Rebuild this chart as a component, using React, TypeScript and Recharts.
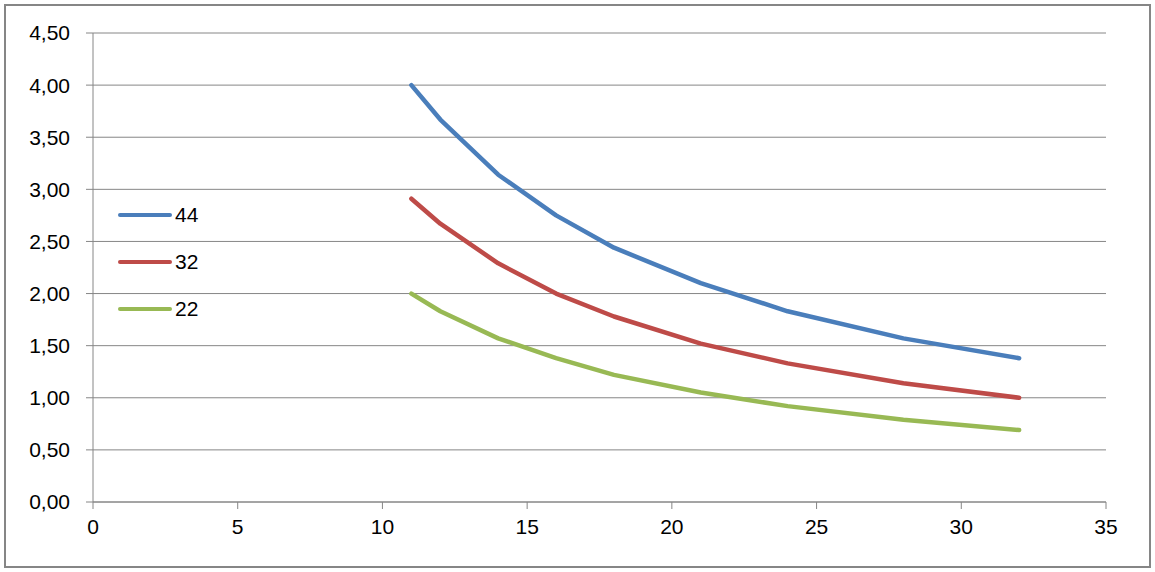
import { LineChart, Line, XAxis, YAxis, CartesianGrid } from 'recharts'

const xValues = [11, 12, 14, 16, 18, 21, 24, 28, 32]
const series44 = [4.0, 3.67, 3.14, 2.75, 2.44, 2.1, 1.83, 1.57, 1.38]
const series32 = [2.91, 2.67, 2.29, 2.0, 1.78, 1.52, 1.33, 1.14, 1.0]
const series22 = [2.0, 1.83, 1.57, 1.38, 1.22, 1.05, 0.92, 0.79, 0.69]
const xTicks = [0, 5, 10, 15, 20, 25, 30, 35]
const yTicks = [0, 0.5, 1, 1.5, 2, 2.5, 3, 3.5, 4, 4.5]

const SERIES = [
  { key: 's44', name: '44', color: '#4a7ebb' },
  { key: 's32', name: '32', color: '#be4b48' },
  { key: 's22', name: '22', color: '#98b954' },
]

const data = xValues.map((x, i) => ({
  x,
  s44: series44[i],
  s32: series32[i],
  s22: series22[i],
}))

const GRAY = '#868686'
const FONT = '"Liberation Sans", Arial, sans-serif'

function LegendBox() {
  return (
    <div style={{ position: 'absolute', left: 112, top: 185, fontFamily: FONT, fontSize: 21, color: '#000' }}>
      {SERIES.map((s) => (
        <div key={s.key} style={{ display: 'flex', alignItems: 'center', height: 47 }}>
          <div style={{ width: 54, height: 4, borderRadius: 2, backgroundColor: s.color, marginRight: 3 }} />
          <span>{s.name}</span>
        </div>
      ))}
    </div>
  )
}

export default function App() {
  return (
    <div
      style={{
        position: 'absolute',
        left: 4,
        top: 4,
        width: 1143,
        height: 560,
        border: `2px solid ${GRAY}`,
        backgroundColor: '#fff',
      }}
    >
      <LineChart width={1143} height={560} data={data} margin={{ top: 27, right: 43, bottom: 34, left: 0 }}>
        <CartesianGrid horizontal vertical={false} stroke={GRAY} strokeWidth={1} />
        <XAxis
          dataKey="x"
          type="number"
          domain={[0, 35]}
          ticks={xTicks}
          height={30}
          tickSize={7}
          tickMargin={10}
          stroke={GRAY}
          tick={{ fill: '#000', fontSize: 21, fontFamily: FONT }}
        />
        <YAxis
          domain={[0, 4.5]}
          ticks={yTicks}
          width={87}
          tickSize={7}
          tickMargin={16}
          stroke={GRAY}
          tickFormatter={(v: number) => v.toFixed(2).replace('.', ',')}
          tick={{ fill: '#000', fontSize: 21, fontFamily: FONT }}
        />
        {SERIES.map((s) => (
          <Line
            key={s.key}
            dataKey={s.key}
            name={s.name}
            type="linear"
            stroke={s.color}
            strokeWidth={4.5}
            strokeLinecap="round"
            strokeLinejoin="round"
            dot={false}
            isAnimationActive={false}
          />
        ))}
      </LineChart>
      <LegendBox />
    </div>
  )
}
